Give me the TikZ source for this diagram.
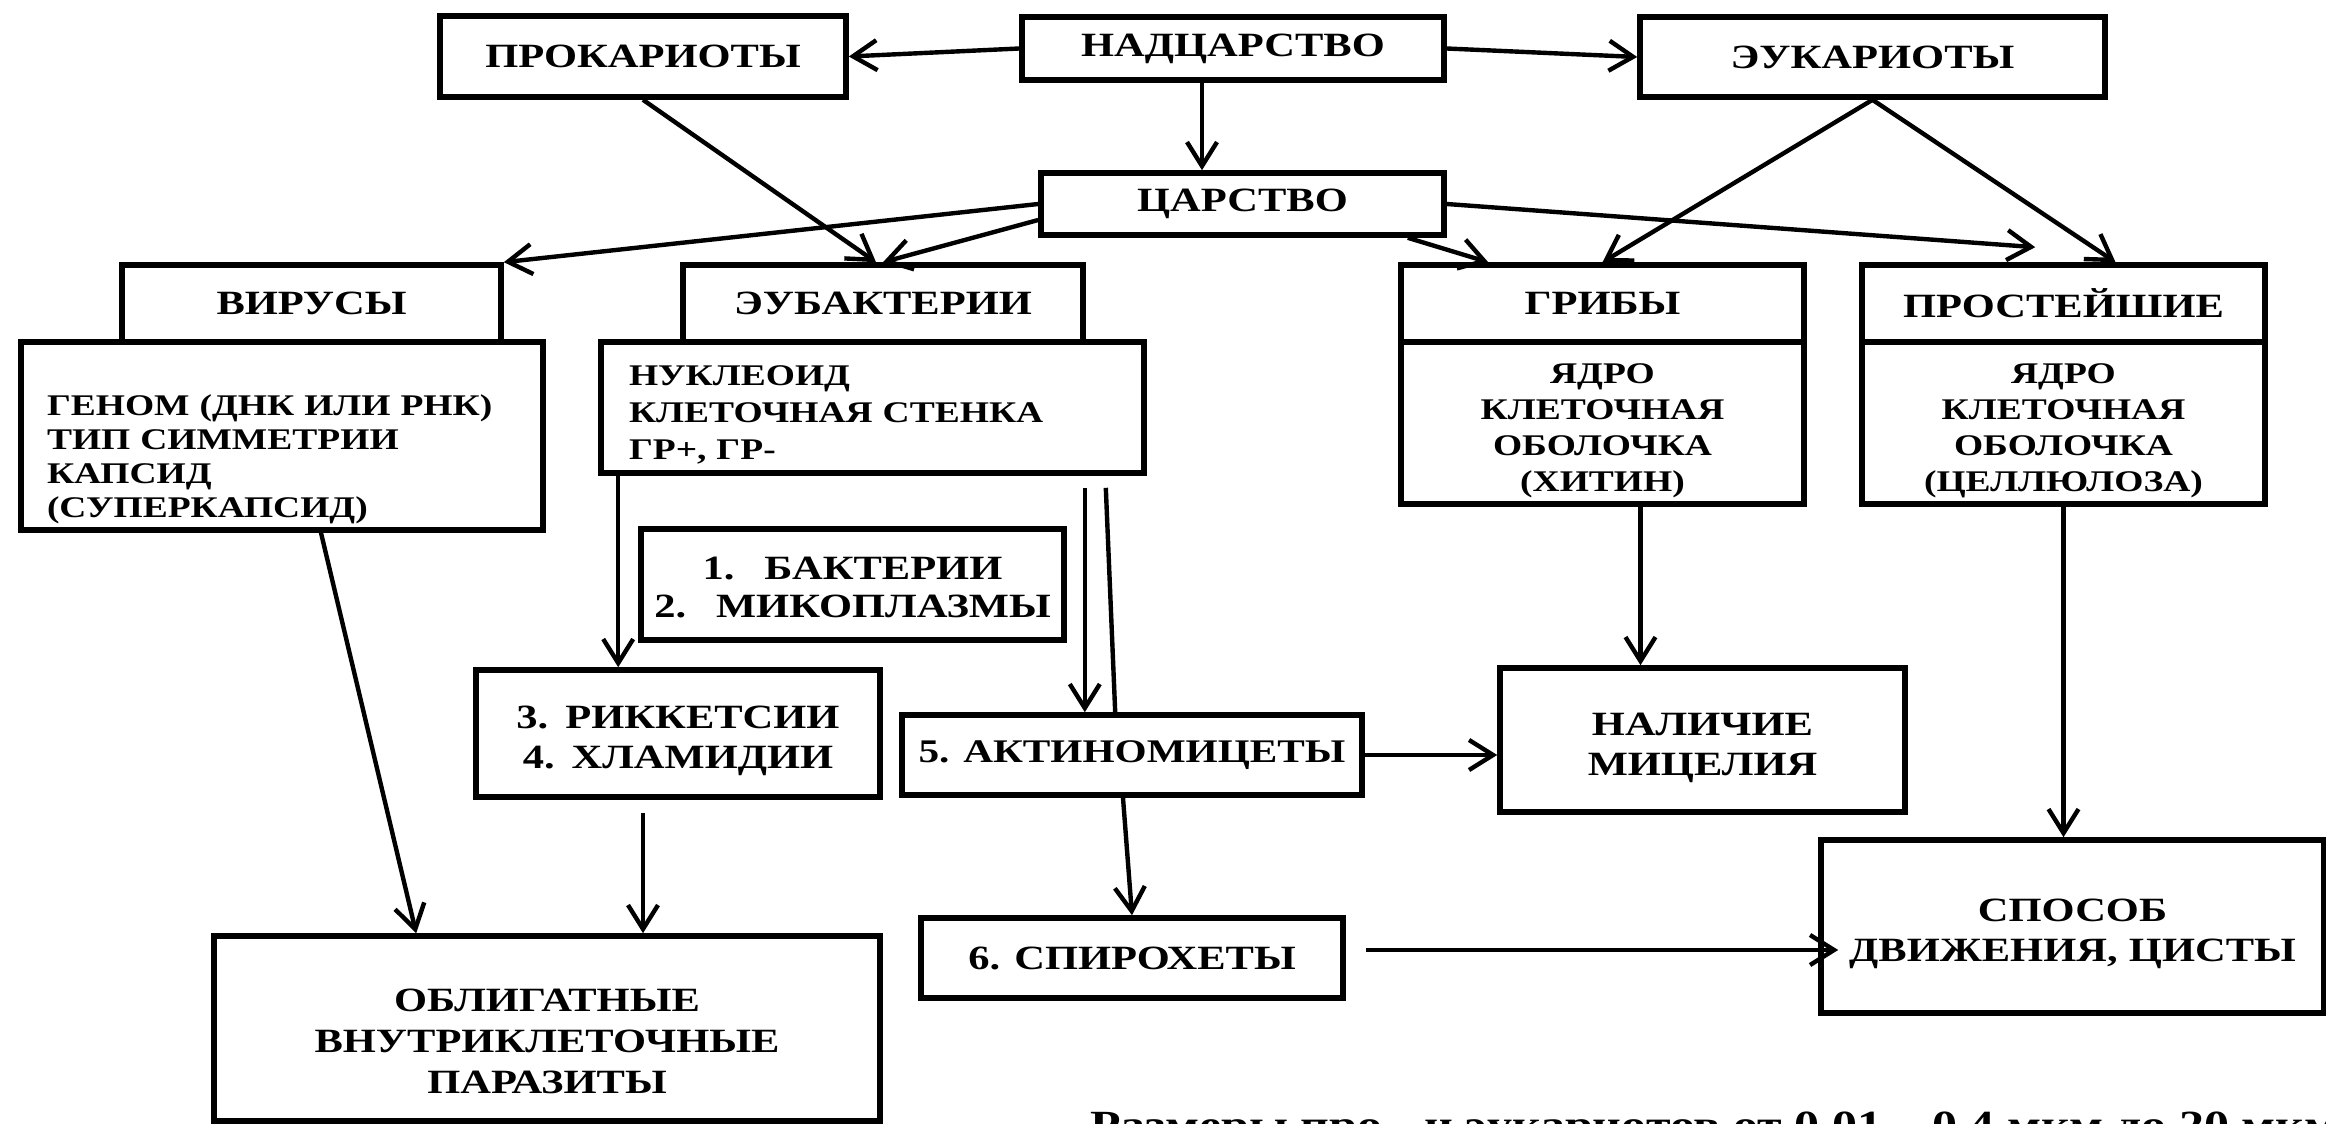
\documentclass[tikz,border=0pt]{standalone}
\usepackage{fontspec}
\setmainfont{Liberation Serif}[FakeStretch=1.25]
\usetikzlibrary{arrows.meta,calc}

\tikzset{
  box/.style={draw, line width=2.8pt, inner sep=0pt, align=center,
    font=\bfseries\fontsize{17}{20}\selectfont},
  body/.style={box, font=\bfseries\fontsize{15}{18}\selectfont},
  arr/.style={line width=2.2pt, -{Straight Barb[length=12pt,width=15pt]}},
}

\begin{document}
\begin{tikzpicture}[x=0.5pt, y=-0.5pt]
\useasboundingbox (0,0) rectangle (2326,1124);
\clip (0,0) rectangle (2326,1124);
% top row
\node[box, minimum width=203pt, minimum height=40.5pt] (prok) at (643,56.5) {ПРОКАРИОТЫ};
\node[box, minimum width=211pt, minimum height=31.5pt] (nadc) at (1233,48.5) {НАДЦАРСТВО};
\node[box, minimum width=232.5pt, minimum height=40pt] (eukar) at (1872.5,57) {ЭУКАРИОТЫ};
\node[box, minimum width=201.5pt, minimum height=31pt] (tsar) at (1242.5,204) {ЦАРСТВО};
% kingdoms: header + body
\node[box, minimum width=189.5pt, minimum height=38.5pt] (virh) at (311.5,303.5) {ВИРУСЫ};
\node[box, minimum width=200pt, minimum height=38.5pt] (eubh) at (883,303.5) {ЭУБАКТЕРИИ};
\node[box, minimum width=201.5pt, minimum height=38.5pt] (gribh) at (1602.5,303.5) {ГРИБЫ};
\node[box, minimum width=201.5pt, minimum height=38.5pt] (prosth) at (2063.5,303.5) {ПРОСТЕЙШИЕ};
\node[body, font=\bfseries\fontsize{15}{17}\selectfont, align=left, text width=235pt,
  inner xsep=13pt, text height=34pt, minimum width=261pt, minimum height=94pt] (genom) at (282,436)
  {ГЕНОМ (ДНК ИЛИ РНК)\\ТИП СИММЕТРИИ\\КАПСИД\\(СУПЕРКАПСИД)};
\node[body, font=\bfseries\fontsize{15}{18.5}\selectfont, align=left, text width=243.5pt,
  inner xsep=14pt, text height=17pt, minimum width=271.5pt, minimum height=65.5pt] (nukl) at (872.5,407.5)
  {НУКЛЕОИД\\КЛЕТОЧНАЯ СТЕНКА\\ГР+, ГР-};
\node[body, text width=190pt, text height=18pt, minimum width=201.5pt, minimum height=81pt] (gribb) at (1602.5,423)
  {ЯДРО\\КЛЕТОЧНАЯ\\ОБОЛОЧКА\\(ХИТИН)};
\node[body, text width=190pt, text height=18pt, minimum width=201.5pt, minimum height=81pt] (prostb) at (2063.5,423)
  {ЯДРО\\КЛЕТОЧНАЯ\\ОБОЛОЧКА\\(ЦЕЛЛЮЛОЗА)};
% groups of bacteria
\node[box, font=\bfseries\fontsize{17}{19}\selectfont, text width=200pt, text height=14pt,
  minimum width=211.5pt, minimum height=55.5pt] (bakt) at (852.5,584.5)
  {1.\hspace{15pt}БАКТЕРИИ\\2.\hspace{15pt}МИКОПЛАЗМЫ};
\node[box, text width=190pt, text height=19pt, minimum width=202pt, minimum height=63.5pt] (rikk) at (678,733.5)
  {3. РИККЕТСИИ\\4. ХЛАМИДИИ};
\node[box, font=\bfseries\fontsize{16.5}{20}\selectfont, minimum width=230pt, minimum height=40pt] (aktino) at (1132,755)
  {5. АКТИНОМИЦЕТЫ};
\node[box, minimum width=211pt, minimum height=40pt] (spiro) at (1132,958) {6. СПИРОХЕТЫ};
\node[box, text width=190pt, text height=19pt, minimum width=202.5pt, minimum height=72pt] (nalich) at (1702.5,740)
  {НАЛИЧИЕ\\МИЦЕЛИЯ};
\node[box, text width=240pt, text height=19pt, minimum width=251.5pt, minimum height=86.5pt] (sposob) at (2072.5,926.5)
  {СПОСОБ\\ДВИЖЕНИЯ, ЦИСТЫ};
\node[box, font=\bfseries\fontsize{17}{20.5}\selectfont, text width=300pt, text height=24pt,
  minimum width=333pt, minimum height=92.5pt] (oblig) at (547,1028.5)
  {ОБЛИГАТНЫЕ\\ВНУТРИКЛЕТОЧНЫЕ\\ПАРАЗИТЫ};
\node[anchor=base west, inner sep=0pt, font=\bfseries\fontsize{20}{22}\selectfont] (note) at (1090,1138)
  {Размеры про - и эукариотов от 0,01 – 0,4 мкм до 20 мкм};
% connectors
\draw[arr] (nadc.west) -- (prok.east);
\draw[arr] (nadc.east) -- (eukar.west);
\draw[arr] ([xshift=-15.5pt]nadc.south) -- ([xshift=-15.5pt]nadc.south |- tsar.north);
\draw[arr] (prok.south) -- ([xshift=-3.5pt]eubh.north);
\draw[arr] (tsar.west) -- (virh.north east);
\draw[arr] ([yshift=-8pt]tsar.west) -- (eubh.north);
\draw[arr] ([xshift=-19.5pt]tsar.south east) -- ([xshift=45pt]gribh.north west);
\draw[arr] (tsar.east) -- ([xshift=88pt,yshift=7.5pt]prosth.north west);
\draw[arr] (eukar.south) -- (gribh.north);
\draw[arr] (eukar.south) -- ([xshift=26pt]prosth.north);
\draw[arr] ([xshift=19.5pt]genom.south) -- ([xshift=102.5pt]oblig.north west);
\draw[arr] ([xshift=10pt]nukl.south west) -- ([xshift=10pt]nukl.south west |- rikk.north);
\draw[arr] ([xshift=-31pt,yshift=-6pt]nukl.south east) -- ([xshift=-31pt]nukl.south east |- aktino.north);
\draw[line width=2.2pt] ([xshift=-20.5pt,yshift=-6pt]nukl.south east) -- ([xshift=108pt]aktino.north west);
\draw[arr] ([xshift=-17.5pt,yshift=-6.5pt]rikk.south) -- ([xshift=-17.5pt]rikk.south |- oblig.north);
\draw[arr] ([xshift=-4.5pt]aktino.south) -- (spiro.north);
\draw[arr] (aktino.east) -- (aktino.east -| nalich.west);
\draw[arr] ([xshift=19pt]gribb.south) -- ([xshift=19pt]gribb.south |- nalich.north);
\draw[arr] (prostb.south) -- (prostb.south |- sposob.north);
\draw[arr] ([xshift=10pt,yshift=4pt]spiro.east) -- ([xshift=10pt,yshift=4pt]spiro.east -| sposob.west);
\end{tikzpicture}
\end{document}
